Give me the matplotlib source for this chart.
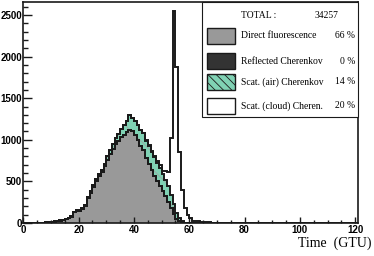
import numpy as np
import matplotlib.pyplot as plt
from matplotlib.patches import Rectangle
from matplotlib.ticker import MultipleLocator

# time bins in GTU (1 GTU wide)
edges = np.arange(0, 122)

# photon counts per bin, bins 0..69 (all later bins are empty)
direct_fluo = [0, 0, 0, 0, 0, 2, 3, 5, 8, 10,
               14, 18, 22, 28, 36, 45, 60, 75, 130, 145,
               150, 170, 200, 300, 360, 430, 500, 560, 610, 680,
               760, 830, 890, 950, 990, 1030, 1060, 1090, 1120, 1110,
               1060, 1000, 930, 880, 780, 710, 640, 570, 500, 440,
               380, 320, 250, 180, 110, 50, 25, 10, 5, 2,
               0, 0, 0, 0, 0, 0, 0, 0, 0, 0]
reflected_cher = [0] * 70
scat_air_cher = [0, 0, 0, 0, 0, 0, 0, 0, 0, 1,
                 2, 2, 3, 3, 4, 4, 5, 6, 8, 9,
                 10, 12, 15, 17, 20, 22, 25, 27, 30, 35,
                 40, 50, 60, 70, 80, 100, 120, 140, 176, 150,
                 170, 180, 190, 200, 210, 215, 215, 220, 220, 215,
                 210, 200, 190, 160, 120, 70, 30, 10, 0, 0,
                 0, 0, 0, 0, 0, 0, 0, 0, 0, 0]
scat_cloud_cher = [0, 0, 0, 0, 0, 0, 0, 0, 0, 0,
                   0, 0, 0, 0, 0, 0, 0, 0, 0, 0,
                   0, 0, 0, 0, 0, 0, 0, 0, 0, 0,
                   0, 0, 0, 0, 0, 0, 0, 0, 0, 0,
                   0, 0, 0, 0, 5, 8, 10, 15, 25, 40,
                   30, 100, 170, 680, 2320, 1760, 795, 380, 175, 94,
                   60, 30, 24, 20, 15, 12, 10, 8, 5, 3]

labels = ['Direct fluorescence', 'Reflected Cherenkov',
          'Scat. (air) Cherenkov', 'Scat. (cloud) Cheren.']
percents = ['66 %', '0 %', '14 %', '20 %']
total = 34257

green = '#80d2b4'
hatch_col = '#9aa8a2'
gray = '#999999'
dark = '#333333'
line = '#1a1a1a'


def pad(a):
    out = np.zeros(len(edges) - 1)
    out[:len(a)] = a
    return out


c1 = pad(direct_fluo)
c2 = c1 + pad(reflected_cher)
c3 = c2 + pad(scat_air_cher)
c4 = c3 + pad(scat_cloud_cher)

plt.rcParams['hatch.linewidth'] = 0.6

W, H = 374, 256
fig = plt.figure(figsize=(W / 100, H / 100), dpi=100)
x0, x1, ytop, ybot = 23.3, 358, 2, 223
ax = fig.add_axes([x0 / W, 1 - ybot / H, (x1 - x0) / W, (ybot - ytop) / H])

# stacked histograms, top layer first
ax.stairs(c4, edges, fill=True, color='white')
ax.stairs(c3, edges, fill=True, facecolor=green, edgecolor=hatch_col,
          lw=0, hatch='\\\\')
ax.stairs(c2, edges, fill=True, color=dark)
ax.stairs(c1, edges, fill=True, color=gray)
for c in (c4, c3, c2, c1):
    ax.stairs(c, edges, color=line, lw=1.4)

ax.set_xlim(0, 121)
ax.set_ylim(0, 2656)
ax.xaxis.set_major_locator(MultipleLocator(20))
ax.xaxis.set_minor_locator(MultipleLocator(5))
ax.yaxis.set_major_locator(MultipleLocator(500))
ax.yaxis.set_minor_locator(MultipleLocator(100))
ax.tick_params(which='both', direction='in', color=line, width=1.0,
               top=False, right=False)
ax.tick_params(axis='y', which='major', length=6.5, pad=1)
ax.tick_params(axis='y', which='minor', length=3.5)
ax.tick_params(axis='x', which='major', length=4.5, pad=1.5)
ax.tick_params(axis='x', which='minor', length=2.5)
for lab in ax.get_xticklabels() + ax.get_yticklabels():
    lab.set_fontfamily('Liberation Sans')
    lab.set_fontweight('bold')
    lab.set_fontsize(7)
for s in ax.spines.values():
    s.set_linewidth(1.2)
    s.set_color(line)

fig.text(372 / W, 1 - 243 / H, 'Time  (GTU)', ha='right', va='center',
         family='Liberation Serif', fontsize=10)


def fx(p):
    return p / W


def fy(p):
    return 1 - p / H


# legend box drawn in figure pixels
fig.add_artist(Rectangle((fx(202), fy(117)), fx(358) - fx(202), fy(2) - fy(117),
                         transform=fig.transFigure, facecolor='white',
                         edgecolor=line, lw=0.8, zorder=5))
tkw = dict(family='Liberation Serif', fontsize=6.9, va='center', zorder=6)
fig.text(fx(241), fy(15), 'TOTAL :', ha='left', **tkw)
fig.text(fx(338), fy(15), str(total), ha='right', **tkw)

row_y = [36, 61, 82, 106]
styles = [dict(facecolor=gray), dict(facecolor=dark),
          dict(facecolor=green, hatch='\\\\\\\\'), dict(facecolor='white')]
for yy, lab, pc, st in zip(row_y, labels, percents, styles):
    fig.add_artist(Rectangle((fx(207), fy(yy + 8)), fx(235) - fx(207),
                             fy(yy - 8) - fy(yy + 8), transform=fig.transFigure,
                             edgecolor=line, lw=1.0, zorder=6, **st))
    fig.text(fx(241), fy(yy), lab, ha='left', **tkw)
    fig.text(fx(355), fy(yy), pc, ha='right', **tkw)

fig.savefig('out.png', dpi=100)
